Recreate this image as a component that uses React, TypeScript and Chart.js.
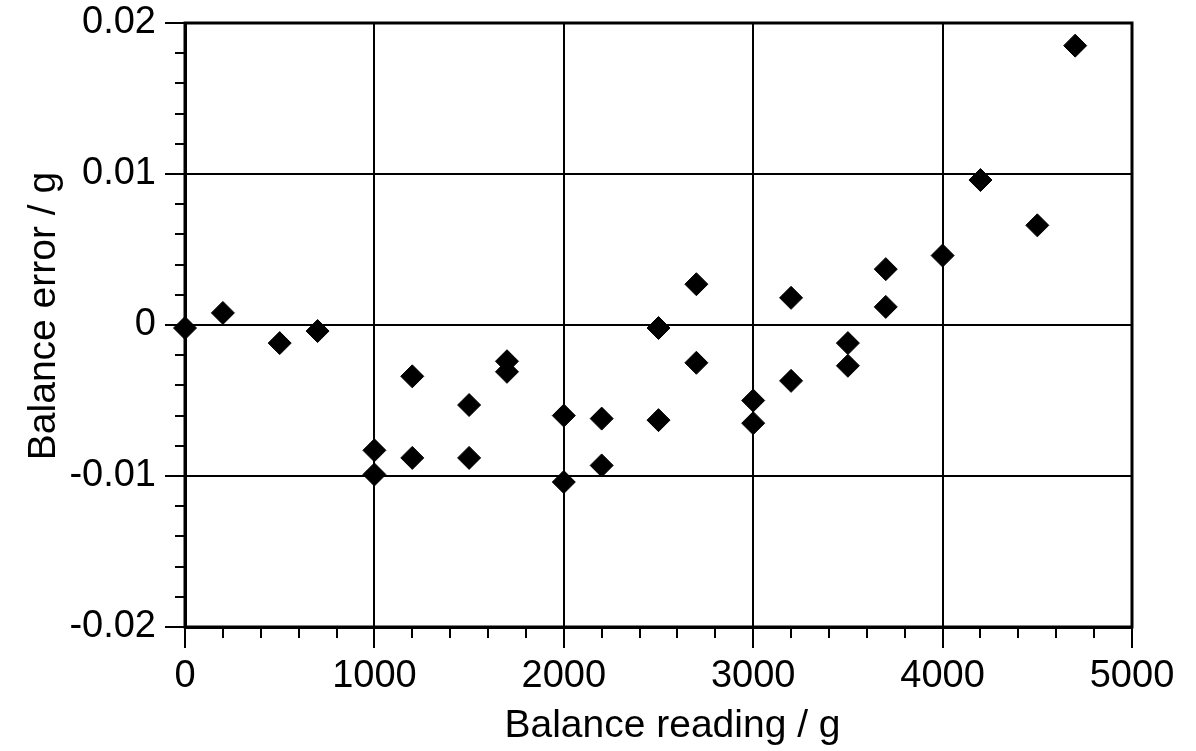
import React, { useEffect, useRef } from 'react';
import { Chart, registerables } from 'chart.js';

Chart.register(...registerables);

// Balance readings (g) and corresponding balance errors (g)
const readings = [
  0, 200, 500, 700, 1000, 1000, 1200, 1200, 1500, 1500, 1700, 1700,
  2000, 2000, 2200, 2200, 2500, 2500, 2700, 2700, 3000, 3000, 3200, 3200,
  3500, 3500, 3700, 3700, 4000, 4200, 4500, 4700,
];
const errors = [
  -0.0002, 0.0008, -0.0012, -0.0004, -0.0083, -0.0099, -0.0034, -0.0088, -0.0053, -0.0088, -0.0024, -0.0031,
  -0.006, -0.0104, -0.0062, -0.0093, -0.0002, -0.0063, 0.0027, -0.0025, -0.005, -0.0065, 0.0018, -0.0037,
  -0.0012, -0.0027, 0.0037, 0.0012, 0.0046, 0.0096, 0.0066, 0.0185,
];

const xTickLabels = ['0', '1000', '2000', '3000', '4000', '5000'];
const yTickLabels = ['-0.02', '-0.01', '0', '0.01', '0.02'];
const xTitle = 'Balance reading / g';
const yTitle = 'Balance error / g';

const X_MIN = 0, X_MAX = 5000, X_STEP = 1000, X_MINOR = 200;
const Y_MIN = -0.02, Y_MAX = 0.02, Y_STEP = 0.01, Y_MINOR = 0.002;

const FONT_FAMILY = '"Liberation Sans", Arial, Helvetica, sans-serif';
const FONT_SIZE = 38;
const TITLE_FONT_SIZE = 39;

const framePlugin = {
  id: 'frameAndTitles',
  afterDraw(chart: any) {
    const { ctx, chartArea: a, scales } = chart;
    ctx.save();
    ctx.strokeStyle = '#000';
    ctx.lineWidth = 2;
    ctx.beginPath();
    // minor ticks on x
    const nx = Math.round((X_MAX - X_MIN) / X_MINOR);
    for (let i = 1; i < nx; i++) {
      if ((i * X_MINOR) % X_STEP === 0) continue;
      const px = Math.round(scales.x.getPixelForValue(X_MIN + i * X_MINOR));
      ctx.moveTo(px, a.bottom);
      ctx.lineTo(px, a.bottom + 11);
    }
    // minor ticks on y
    const ny = Math.round((Y_MAX - Y_MIN) / Y_MINOR);
    for (let i = 1; i < ny; i++) {
      if (i % 5 === 0) continue;
      const py = Math.round(scales.y.getPixelForValue(Y_MIN + i * Y_MINOR));
      ctx.moveTo(a.left - 10, py);
      ctx.lineTo(a.left, py);
    }
    ctx.stroke();
    // frame
    ctx.lineWidth = 3;
    ctx.strokeRect(a.left, a.top, a.right - a.left, a.bottom - a.top);
    // titles
    ctx.fillStyle = '#000';
    ctx.font = `${TITLE_FONT_SIZE}px ${FONT_FAMILY}`;
    ctx.textAlign = 'center';
    ctx.textBaseline = 'alphabetic';
    ctx.fillText(xTitle, (a.left + a.right) / 2 + 14, 737);
    ctx.translate(55, (a.top + a.bottom) / 2 - 9);
    ctx.rotate(-Math.PI / 2);
    ctx.fillText(yTitle, 0, 0);
    ctx.restore();
  },
};

export default function App() {
  const canvasRef = useRef<HTMLCanvasElement | null>(null);

  useEffect(() => {
    document.body.style.margin = '0';
    const canvas = canvasRef.current;
    if (!canvas) return;
    const points = readings.map((x, i) => ({ x, y: errors[i] }));
    const chart = new Chart(canvas, {
      type: 'scatter',
      data: {
        datasets: [
          {
            label: 'Balance error',
            data: points,
            pointStyle: 'rectRot',
            pointRadius: 11.5,
            pointHoverRadius: 11.5,
            backgroundColor: '#000',
            borderColor: '#000',
            borderWidth: 1,
            clip: false,
          },
        ],
      },
      options: {
        animation: false,
        responsive: true,
        maintainAspectRatio: false,
        layout: { padding: { left: 0, top: 23, right: 64, bottom: 0 } },
        plugins: {
          legend: { display: false },
          tooltip: { enabled: false },
        },
        scales: {
          x: {
            type: 'linear',
            min: X_MIN,
            max: X_MAX,
            afterFit: (s: any) => {
              s.height = 124;
              s.paddingLeft = 0;
              s.paddingRight = 0;
            },
            ticks: {
              stepSize: X_STEP,
              color: '#000',
              padding: 6,
              maxRotation: 0,
              font: { family: FONT_FAMILY, size: FONT_SIZE },
              callback: (_v: any, i: number) => xTickLabels[i],
            },
            grid: { color: '#000', lineWidth: 2, tickLength: 21, tickColor: '#000', tickWidth: 2 },
            border: { display: true, color: '#000', width: 3 },
          },
          y: {
            type: 'linear',
            min: Y_MIN,
            max: Y_MAX,
            afterFit: (s: any) => {
              s.width = 185;
              s.paddingTop = 0;
              s.paddingBottom = 0;
            },
            ticks: {
              stepSize: Y_STEP,
              color: '#000',
              padding: 9,
              font: { family: FONT_FAMILY, size: FONT_SIZE },
              callback: (_v: any, i: number) => yTickLabels[i],
            },
            grid: { color: '#000', lineWidth: 2, tickLength: 20, tickColor: '#000', tickWidth: 2 },
            border: { display: true, color: '#000', width: 3 },
          },
        },
      },
      plugins: [framePlugin],
    });
    return () => chart.destroy();
  }, []);

  return (
    <div style={{ position: 'relative', width: '1196px', height: '751px', background: '#fff' }}>
      <canvas ref={canvasRef} />
    </div>
  );
}
